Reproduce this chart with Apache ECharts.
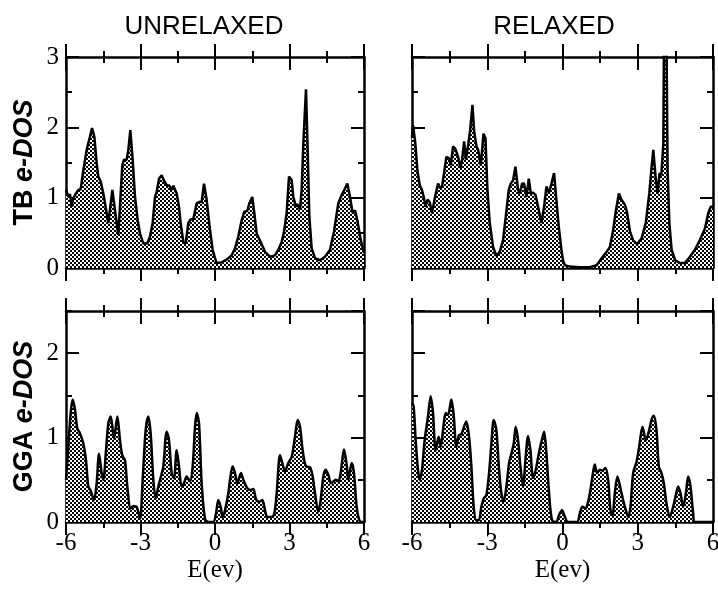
<!DOCTYPE html>
<html><head><meta charset="utf-8">
<script src="https://cdn.jsdelivr.net/npm/echarts@6/dist/echarts.min.js"></script>
<style>html,body{margin:0;padding:0;background:#fff}#c{width:718px;height:590px}</style>
</head><body><div id="c"></div><script>
// ---- data (energy E in eV, density of states) ----
const columnTitles = ['UNRELAXED', 'RELAXED'];
const rowLabels = [['TB ', 'e-DOS'], ['GGA ', 'e-DOS']];
const xRange = [-6, 6];
const yMaxTop = 3;
const yMaxBottom = 2.5;

const tbUnrelaxed = [[-6.00,1.11],[-5.906,1.01],[-5.839,1.05],[-5.772,0.87],[-5.705,0.99],[-5.597,1.06],[-5.503,1.11],[-5.409,1.12],[-5.302,1.39],[-5.168,1.68],[-5.034,1.87],[-4.953,1.99],[-4.859,1.87],[-4.765,1.49],[-4.698,1.30],[-4.604,1.23],[-4.497,1.06],[-4.430,1.04],[-4.362,0.78],[-4.295,0.64],[-4.134,1.11],[-4.027,0.82],[-3.893,0.47],[-3.732,1.46],[-3.664,1.54],[-3.557,1.54],[-3.490,1.68],[-3.409,1.96],[-3.315,1.54],[-3.221,1.01],[-3.114,0.68],[-3.020,0.49],[-2.886,0.35],[-2.725,0.35],[-2.617,0.45],[-2.510,0.64],[-2.416,1.01],[-2.349,1.08],[-2.255,1.27],[-2.148,1.32],[-2.054,1.24],[-1.946,1.18],[-1.839,1.17],[-1.745,1.11],[-1.678,1.17],[-1.544,1.06],[-1.450,0.87],[-1.383,0.64],[-1.275,0.37],[-1.181,0.35],[-1.074,0.64],[-0.980,0.69],[-0.872,0.70],[-0.738,0.92],[-0.631,0.94],[-0.537,0.94],[-0.443,1.20],[-0.336,0.97],[-0.201,0.54],[-0.094,0.26],[0.000,0.14],[0.067,0.07],[0.268,0.08],[0.470,0.12],[0.671,0.18],[0.805,0.28],[0.940,0.45],[1.074,0.68],[1.181,0.80],[1.302,0.81],[1.383,0.92],[1.503,1.01],[1.584,0.78],[1.678,0.49],[1.839,0.37],[2.013,0.23],[2.215,0.16],[2.282,0.14],[2.416,0.18],[2.550,0.26],[2.685,0.37],[2.779,0.52],[2.886,0.78],[2.980,1.30],[3.087,1.25],[3.154,1.01],[3.262,0.87],[3.315,0.91],[3.423,0.83],[3.490,1.11],[3.557,1.77],[3.664,2.54],[3.732,1.68],[3.799,0.73],[3.893,0.28],[4.027,0.14],[4.228,0.11],[4.430,0.16],[4.631,0.26],[4.792,0.52],[4.966,0.92],[5.101,1.04],[5.235,1.13],[5.329,1.20],[5.436,1.01],[5.544,0.78],[5.638,0.82],[5.732,0.68],[5.866,0.40],[6.0,0.21]];

const tbRelaxed = [[-6.00,1.85],[-5.959,2.03],[-5.866,1.77],[-5.786,1.39],[-5.693,1.18],[-5.600,1.11],[-5.520,0.99],[-5.467,0.87],[-5.387,0.97],[-5.294,0.94],[-5.201,0.78],[-5.094,0.99],[-4.961,1.20],[-4.868,1.13],[-4.801,1.16],[-4.722,1.35],[-4.629,1.58],[-4.522,1.56],[-4.456,1.46],[-4.363,1.73],[-4.270,1.69],[-4.161,1.58],[-4.068,1.42],[-4.001,1.54],[-3.921,1.80],[-3.855,1.54],[-3.762,1.75],[-3.682,1.96],[-3.589,2.32],[-3.522,1.94],[-3.429,1.73],[-3.363,1.68],[-3.257,1.46],[-3.150,1.91],[-3.070,1.84],[-2.993,1.11],[-2.900,0.64],[-2.767,0.30],[-2.634,0.17],[-2.501,0.23],[-2.368,0.40],[-2.262,0.73],[-2.142,1.11],[-2.063,1.20],[-1.969,1.25],[-1.876,1.44],[-1.770,1.11],[-1.703,1.06],[-1.610,1.20],[-1.530,1.20],[-1.437,1.01],[-1.344,1.27],[-1.264,1.06],[-1.171,1.07],[-1.078,1.04],[-0.972,0.87],[-0.839,0.64],[-0.733,0.87],[-0.640,1.16],[-0.546,1.06],[-0.440,1.20],[-0.336,1.35],[-0.243,0.97],[-0.150,0.59],[-0.044,0.26],[0.022,0.11],[0.09,0.04],[0.29,0.02],[0.69,0.01],[1.09,0.01],[1.36,0.04],[1.56,0.14],[1.76,0.23],[1.89,0.30],[2.02,0.54],[2.13,0.82],[2.25,1.06],[2.35,0.97],[2.49,0.90],[2.58,0.78],[2.69,0.52],[2.82,0.39],[2.98,0.34],[3.15,0.42],[3.32,0.64],[3.46,1.06],[3.54,1.39],[3.62,1.68],[3.71,1.30],[3.79,1.06],[3.87,1.35],[3.94,1.32],[4.02,1.77],[4.05,3.5],[4.14,3.5],[4.19,1.4],[4.26,0.64],[4.35,0.26],[4.49,0.11],[4.68,0.07],[4.88,0.07],[5.08,0.16],[5.28,0.26],[5.48,0.40],[5.68,0.56],[5.81,0.78],[5.91,0.87],[6.0,0.87]];

const ggaUnrelaxed = [[-6,0.50],[-5.906,0.89],[-5.812,1.29],[-5.732,1.45],[-5.638,1.33],[-5.544,1.11],[-5.436,1.05],[-5.302,0.93],[-5.195,0.73],[-5.101,0.42],[-5.007,0.37],[-4.872,0.26],[-4.765,0.46],[-4.671,0.81],[-4.564,0.58],[-4.497,0.50],[-4.389,0.85],[-4.295,1.17],[-4.201,1.25],[-4.067,0.99],[-3.933,1.25],[-3.826,0.97],[-3.732,0.79],[-3.624,0.73],[-3.530,0.42],[-3.396,0.16],[-3.289,0.19],[-3.154,0.18],[-3.020,0.04],[-2.913,0.50],[-2.792,1.09],[-2.685,1.25],[-2.591,1.05],[-2.483,0.50],[-2.389,0.28],[-2.282,0.42],[-2.174,0.54],[-2.081,0.66],[-1.946,1.07],[-1.852,0.97],[-1.745,0.58],[-1.651,0.52],[-1.544,0.85],[-1.450,0.66],[-1.342,0.42],[-1.248,0.46],[-1.141,0.54],[-1.007,0.48],[-0.899,0.66],[-0.805,1.13],[-0.738,1.29],[-0.644,1.17],[-0.537,0.46],[-0.403,0.04],[-0.268,0],[-0.067,0],[0.04,0.10],[0.134,0.26],[0.228,0.18],[0.309,0.06],[0.403,0.14],[0.537,0.34],[0.604,0.50],[0.711,0.66],[0.805,0.58],[0.899,0.46],[1.047,0.58],[1.141,0.50],[1.302,0.40],[1.436,0.38],[1.544,0.39],[1.651,0.27],[1.772,0.24],[1.906,0.26],[2.013,0.14],[2.107,0.06],[2.282,0.06],[2.389,0.10],[2.483,0.34],[2.617,0.79],[2.711,0.70],[2.819,0.60],[2.953,0.70],[3.087,0.77],[3.221,1.01],[3.329,1.21],[3.423,1.13],[3.530,0.85],[3.664,0.66],[3.826,0.65],[3.933,0.54],[4.027,0.34],[4.161,0.12],[4.255,0.26],[4.362,0.54],[4.456,0.62],[4.564,0.56],[4.671,0.46],[4.765,0.48],[4.872,0.50],[4.966,0.48],[5.060,0.58],[5.195,0.86],[5.302,0.68],[5.369,0.50],[5.503,0.70],[5.597,0.58],[5.705,0.18],[5.812,0.02],[5.906,0],[6,0]];

const ggaRelaxed = [[-6,1.41],[-5.934,1.37],[-5.854,0.97],[-5.761,0.62],[-5.694,0.50],[-5.601,0.62],[-5.495,0.97],[-5.362,1.25],[-5.255,1.49],[-5.162,1.29],[-5.056,0.85],[-4.936,1.01],[-4.856,0.89],[-4.763,1.09],[-4.657,1.29],[-4.564,1.27],[-4.431,1.45],[-4.338,1.27],[-4.231,0.89],[-4.125,1.03],[-4.032,1.04],[-3.926,1.13],[-3.832,1.19],[-3.726,1.01],[-3.633,0.66],[-3.540,0.18],[-3.434,0.02],[-3.340,0.02],[-3.234,0.18],[-3.141,0.28],[-3.035,0.32],[-2.928,0.58],[-2.835,0.93],[-2.742,1.21],[-2.636,1.09],[-2.529,0.62],[-2.436,0.34],[-2.343,0.24],[-2.237,0.42],[-2.130,0.70],[-2.037,0.81],[-1.944,0.93],[-1.864,1.13],[-1.771,0.97],[-1.678,0.66],[-1.572,0.42],[-1.479,0.73],[-1.372,1.02],[-1.279,0.85],[-1.173,0.52],[-1.066,0.62],[-0.947,0.81],[-0.840,0.95],[-0.734,1.07],[-0.641,0.81],[-0.535,0.34],[-0.415,0.02],[-0.246,0],[-0.141,0.08],[-0.020,0.14],[0.085,0.07],[0.218,0],[0.582,0],[0.689,0.10],[0.795,0.18],[0.915,0.16],[1.021,0.24],[1.114,0.38],[1.194,0.54],[1.287,0.68],[1.380,0.58],[1.487,0.62],[1.593,0.61],[1.713,0.64],[1.819,0.50],[1.912,0.14],[1.992,0.08],[2.085,0.34],[2.191,0.54],[2.311,0.40],[2.418,0.26],[2.524,0.14],[2.617,0.06],[2.710,0.18],[2.816,0.58],[2.949,0.71],[3.056,0.89],[3.189,1.13],[3.322,0.97],[3.455,1.09],[3.548,1.21],[3.641,1.26],[3.747,1.09],[3.840,0.66],[3.947,0.58],[4.040,0.46],[4.146,0.22],[4.279,0.06],[4.412,0.18],[4.519,0.32],[4.612,0.42],[4.705,0.34],[4.811,0.18],[4.918,0.34],[5.011,0.54],[5.104,0.42],[5.210,0.10],[5.277,0],[6,0]];

// ---- chart ----
const chart = echarts.init(document.getElementById('c'), null, {renderer: 'canvas'});

const pc = document.createElement('canvas');
pc.width = 4; pc.height = 4;
const pctx = pc.getContext('2d');
pctx.fillStyle = '#fff'; pctx.fillRect(0, 0, 4, 4);
pctx.fillStyle = '#000'; pctx.fillRect(0, 0, 2, 2); pctx.fillRect(2, 2, 2, 2);
const pattern = {image: pc, repeat: 'repeat'};

const serif = 'Liberation Serif', sans = 'Liberation Sans';
const grids = [
  {left: 66, top: 57, width: 298, height: 211},
  {left: 412, top: 57, width: 301, height: 211},
  {left: 66, top: 311, width: 298, height: 211},
  {left: 412, top: 311, width: 301, height: 211}
].map(g => Object.assign(g, {containLabel: false, outerBoundsMode: 'none'}));

const panels = [
  {data: tbUnrelaxed, ymax: yMaxTop, smooth: false, row: 0, col: 0},
  {data: tbRelaxed, ymax: yMaxTop, smooth: false, row: 0, col: 1},
  {data: ggaUnrelaxed, ymax: yMaxBottom, smooth: true, row: 1, col: 0},
  {data: ggaRelaxed, ymax: yMaxBottom, smooth: true, row: 1, col: 1}
];

const AX = {color: '#000', width: 2.5};
const tick = (len, inside) => ({show: true, inside: inside, length: len, lineStyle: {color: '#000', width: 2}});
const minor = len => ({show: true, splitNumber: 2, length: len, lineStyle: {color: '#000', width: 2}});
const xAxes = [], yAxes = [], series = [];

panels.forEach((p, g) => {
  const bottomRow = p.row === 1, leftCol = p.col === 0;
  const xi = xAxes.length;
  xAxes.push({
    gridIndex: g, type: 'value', min: xRange[0], max: xRange[1], interval: 3, position: 'bottom',
    axisLine: {show: true, onZero: false, lineStyle: AX},
    axisTick: tick(13, false), minorTick: minor(6),
    splitLine: {show: false}, minorSplitLine: {show: false},
    axisLabel: {show: bottomRow, color: '#000', fontFamily: serif, fontSize: 25, margin: 9},
    name: bottomRow ? 'E(ev)' : '', nameLocation: 'middle', nameGap: 36,
    nameTextStyle: {color: '#000', fontFamily: serif, fontSize: 25}
  });
  [false, true].forEach(inside => xAxes.push({
    gridIndex: g, type: 'value', min: xRange[0], max: xRange[1], interval: 3, position: 'top',
    axisLine: {show: !inside, onZero: false, lineStyle: AX},
    axisTick: tick(13, inside), minorTick: minor(6),
    splitLine: {show: false}, minorSplitLine: {show: false}, axisLabel: {show: false}
  }));
  const yi = yAxes.length;
  const lbl = rowLabels[p.row];
  ['left', 'right'].forEach(pos => {
    const main = pos === 'left';
    yAxes.push({
      gridIndex: g, type: 'value', min: 0, max: p.ymax, interval: 1, position: pos,
      axisLine: {show: true, onZero: false, lineStyle: AX},
      axisTick: tick(13, true), splitLine: {show: false},
      axisLabel: {show: main && leftCol, color: '#000', fontFamily: serif, fontSize: 25, margin: 7,
                  showMaxLabel: p.ymax === 3},
      name: (main && leftCol) ? '{a|' + lbl[0] + '}{b|' + lbl[1] + '}' : '',
      nameLocation: 'middle', nameRotate: 90, nameGap: 28,
      nameTextStyle: {color: '#000', rich: {
        a: {fontFamily: sans, fontWeight: 'bold', fontSize: 27, color: '#000'},
        b: {fontFamily: sans, fontWeight: 'bold', fontStyle: 'italic', fontSize: 27, color: '#000'}
      }}
    });
    yAxes.push({
      gridIndex: g, type: 'value', min: 0, max: p.ymax, interval: 0.5, position: pos,
      axisLine: {show: false, onZero: false},
      axisTick: tick(6, true), splitLine: {show: false}, axisLabel: {show: false}
    });
  });
  series.push({
    type: 'line', xAxisIndex: xi, yAxisIndex: yi, data: p.data,
    smooth: p.smooth ? 0.3 : false, symbol: 'none', silent: true, clip: true,
    lineStyle: {color: '#000', width: 2.5}, areaStyle: {color: pattern, opacity: 1}
  });
});

chart.setOption({
  animation: false,
  backgroundColor: '#fff',
  grid: grids,
  xAxis: xAxes,
  yAxis: yAxes,
  series: series,
  graphic: [
    {type: 'text', x: 204, y: 27, style: {text: columnTitles[0], fill: '#000', fontFamily: sans, fontSize: 26,
      textAlign: 'center', textVerticalAlign: 'middle', align: 'center', verticalAlign: 'middle'}},
    {type: 'text', x: 554, y: 27, style: {text: columnTitles[1], fill: '#000', fontFamily: sans, fontSize: 26,
      textAlign: 'center', textVerticalAlign: 'middle', align: 'center', verticalAlign: 'middle'}}
  ]
});
</script></body></html>
